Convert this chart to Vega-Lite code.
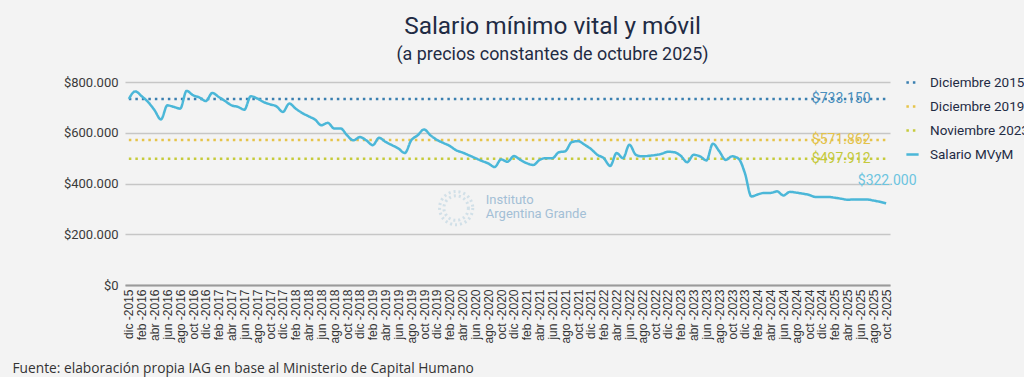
{
  "$schema": "https://vega.github.io/schema/vega-lite/v6.json",
  "autosize": {"type": "none"},
  "width": 765,
  "height": 203,
  "padding": {"left": 125, "top": 82, "right": 134, "bottom": 92},
  "background": "#f3f3f3",
  "title": {
    "text": "Salario mínimo vital y móvil",
    "subtitle": "(a precios constantes de octubre 2025)",
    "anchor": "middle",
    "frame": "group",
    "dx": 45,
    "font": "Roboto",
    "fontSize": 24.4,
    "fontWeight": "normal",
    "color": "#1f2b44",
    "subtitleFont": "Roboto",
    "subtitleFontSize": 17.9,
    "subtitleColor": "#1f2b44",
    "subtitlePadding": 7,
    "offset": 10
  },
  "config": {
    "view": {"stroke": null},
    "locale": {"number": {"decimal": ",", "thousands": ".", "grouping": [3], "currency": ["$", ""]}}
  },
  "layer": [
    {
      "data": {"values": [
        {"mes": "2015-12", "serie": "Diciembre 2015", "v": 733150},
        {"mes": "2025-10", "serie": "Diciembre 2015", "v": 733150},
        {"mes": "2015-12", "serie": "Diciembre 2019", "v": 571862},
        {"mes": "2025-10", "serie": "Diciembre 2019", "v": 571862},
        {"mes": "2015-12", "serie": "Noviembre 2023", "v": 497912},
        {"mes": "2025-10", "serie": "Noviembre 2023", "v": 497912},
        {"mes": "2015-12", "serie": "Salario MVyM", "v": 733150},
        {"mes": "2016-01", "serie": "Salario MVyM", "v": 763000},
        {"mes": "2016-02", "serie": "Salario MVyM", "v": 744000},
        {"mes": "2016-03", "serie": "Salario MVyM", "v": 721000},
        {"mes": "2016-04", "serie": "Salario MVyM", "v": 689000},
        {"mes": "2016-05", "serie": "Salario MVyM", "v": 652000},
        {"mes": "2016-06", "serie": "Salario MVyM", "v": 708000},
        {"mes": "2016-07", "serie": "Salario MVyM", "v": 702000},
        {"mes": "2016-08", "serie": "Salario MVyM", "v": 695000},
        {"mes": "2016-09", "serie": "Salario MVyM", "v": 765000},
        {"mes": "2016-10", "serie": "Salario MVyM", "v": 748000},
        {"mes": "2016-11", "serie": "Salario MVyM", "v": 739000},
        {"mes": "2016-12", "serie": "Salario MVyM", "v": 725000},
        {"mes": "2017-01", "serie": "Salario MVyM", "v": 757000},
        {"mes": "2017-02", "serie": "Salario MVyM", "v": 741000},
        {"mes": "2017-03", "serie": "Salario MVyM", "v": 725000},
        {"mes": "2017-04", "serie": "Salario MVyM", "v": 708000},
        {"mes": "2017-05", "serie": "Salario MVyM", "v": 702000},
        {"mes": "2017-06", "serie": "Salario MVyM", "v": 691000},
        {"mes": "2017-07", "serie": "Salario MVyM", "v": 744000},
        {"mes": "2017-08", "serie": "Salario MVyM", "v": 735000},
        {"mes": "2017-09", "serie": "Salario MVyM", "v": 721000},
        {"mes": "2017-10", "serie": "Salario MVyM", "v": 712000},
        {"mes": "2017-11", "serie": "Salario MVyM", "v": 704000},
        {"mes": "2017-12", "serie": "Salario MVyM", "v": 682000},
        {"mes": "2018-01", "serie": "Salario MVyM", "v": 715000},
        {"mes": "2018-02", "serie": "Salario MVyM", "v": 695000},
        {"mes": "2018-03", "serie": "Salario MVyM", "v": 678000},
        {"mes": "2018-04", "serie": "Salario MVyM", "v": 665000},
        {"mes": "2018-05", "serie": "Salario MVyM", "v": 652000},
        {"mes": "2018-06", "serie": "Salario MVyM", "v": 630000},
        {"mes": "2018-07", "serie": "Salario MVyM", "v": 639000},
        {"mes": "2018-08", "serie": "Salario MVyM", "v": 617000},
        {"mes": "2018-09", "serie": "Salario MVyM", "v": 617000},
        {"mes": "2018-10", "serie": "Salario MVyM", "v": 590000},
        {"mes": "2018-11", "serie": "Salario MVyM", "v": 570000},
        {"mes": "2018-12", "serie": "Salario MVyM", "v": 583000},
        {"mes": "2019-01", "serie": "Salario MVyM", "v": 570000},
        {"mes": "2019-02", "serie": "Salario MVyM", "v": 551000},
        {"mes": "2019-03", "serie": "Salario MVyM", "v": 580000},
        {"mes": "2019-04", "serie": "Salario MVyM", "v": 564000},
        {"mes": "2019-05", "serie": "Salario MVyM", "v": 551000},
        {"mes": "2019-06", "serie": "Salario MVyM", "v": 538000},
        {"mes": "2019-07", "serie": "Salario MVyM", "v": 520000},
        {"mes": "2019-08", "serie": "Salario MVyM", "v": 570000},
        {"mes": "2019-09", "serie": "Salario MVyM", "v": 590000},
        {"mes": "2019-10", "serie": "Salario MVyM", "v": 613000},
        {"mes": "2019-11", "serie": "Salario MVyM", "v": 590000},
        {"mes": "2019-12", "serie": "Salario MVyM", "v": 571862},
        {"mes": "2020-01", "serie": "Salario MVyM", "v": 560000},
        {"mes": "2020-02", "serie": "Salario MVyM", "v": 548000},
        {"mes": "2020-03", "serie": "Salario MVyM", "v": 531000},
        {"mes": "2020-04", "serie": "Salario MVyM", "v": 522000},
        {"mes": "2020-05", "serie": "Salario MVyM", "v": 511000},
        {"mes": "2020-06", "serie": "Salario MVyM", "v": 500000},
        {"mes": "2020-07", "serie": "Salario MVyM", "v": 489000},
        {"mes": "2020-08", "serie": "Salario MVyM", "v": 479000},
        {"mes": "2020-09", "serie": "Salario MVyM", "v": 465000},
        {"mes": "2020-10", "serie": "Salario MVyM", "v": 495000},
        {"mes": "2020-11", "serie": "Salario MVyM", "v": 486000},
        {"mes": "2020-12", "serie": "Salario MVyM", "v": 508000},
        {"mes": "2021-01", "serie": "Salario MVyM", "v": 493000},
        {"mes": "2021-02", "serie": "Salario MVyM", "v": 480000},
        {"mes": "2021-03", "serie": "Salario MVyM", "v": 473000},
        {"mes": "2021-04", "serie": "Salario MVyM", "v": 493000},
        {"mes": "2021-05", "serie": "Salario MVyM", "v": 500000},
        {"mes": "2021-06", "serie": "Salario MVyM", "v": 500000},
        {"mes": "2021-07", "serie": "Salario MVyM", "v": 523000},
        {"mes": "2021-08", "serie": "Salario MVyM", "v": 527000},
        {"mes": "2021-09", "serie": "Salario MVyM", "v": 563000},
        {"mes": "2021-10", "serie": "Salario MVyM", "v": 567000},
        {"mes": "2021-11", "serie": "Salario MVyM", "v": 553000},
        {"mes": "2021-12", "serie": "Salario MVyM", "v": 536000},
        {"mes": "2022-01", "serie": "Salario MVyM", "v": 513000},
        {"mes": "2022-02", "serie": "Salario MVyM", "v": 500000},
        {"mes": "2022-03", "serie": "Salario MVyM", "v": 469000},
        {"mes": "2022-04", "serie": "Salario MVyM", "v": 520000},
        {"mes": "2022-05", "serie": "Salario MVyM", "v": 500000},
        {"mes": "2022-06", "serie": "Salario MVyM", "v": 553000},
        {"mes": "2022-07", "serie": "Salario MVyM", "v": 513000},
        {"mes": "2022-08", "serie": "Salario MVyM", "v": 507000},
        {"mes": "2022-09", "serie": "Salario MVyM", "v": 509000},
        {"mes": "2022-10", "serie": "Salario MVyM", "v": 512000},
        {"mes": "2022-11", "serie": "Salario MVyM", "v": 517000},
        {"mes": "2022-12", "serie": "Salario MVyM", "v": 525000},
        {"mes": "2023-01", "serie": "Salario MVyM", "v": 523000},
        {"mes": "2023-02", "serie": "Salario MVyM", "v": 509000},
        {"mes": "2023-03", "serie": "Salario MVyM", "v": 484000},
        {"mes": "2023-04", "serie": "Salario MVyM", "v": 513000},
        {"mes": "2023-05", "serie": "Salario MVyM", "v": 507000},
        {"mes": "2023-06", "serie": "Salario MVyM", "v": 491000},
        {"mes": "2023-07", "serie": "Salario MVyM", "v": 557000},
        {"mes": "2023-08", "serie": "Salario MVyM", "v": 527000},
        {"mes": "2023-09", "serie": "Salario MVyM", "v": 493000},
        {"mes": "2023-10", "serie": "Salario MVyM", "v": 507000},
        {"mes": "2023-11", "serie": "Salario MVyM", "v": 497912},
        {"mes": "2023-12", "serie": "Salario MVyM", "v": 440000},
        {"mes": "2024-01", "serie": "Salario MVyM", "v": 349000},
        {"mes": "2024-02", "serie": "Salario MVyM", "v": 357000},
        {"mes": "2024-03", "serie": "Salario MVyM", "v": 363000},
        {"mes": "2024-04", "serie": "Salario MVyM", "v": 363000},
        {"mes": "2024-05", "serie": "Salario MVyM", "v": 369000},
        {"mes": "2024-06", "serie": "Salario MVyM", "v": 353000},
        {"mes": "2024-07", "serie": "Salario MVyM", "v": 367000},
        {"mes": "2024-08", "serie": "Salario MVyM", "v": 364000},
        {"mes": "2024-09", "serie": "Salario MVyM", "v": 360000},
        {"mes": "2024-10", "serie": "Salario MVyM", "v": 355000},
        {"mes": "2024-11", "serie": "Salario MVyM", "v": 347000},
        {"mes": "2024-12", "serie": "Salario MVyM", "v": 347000},
        {"mes": "2025-01", "serie": "Salario MVyM", "v": 347000},
        {"mes": "2025-02", "serie": "Salario MVyM", "v": 344000},
        {"mes": "2025-03", "serie": "Salario MVyM", "v": 340000},
        {"mes": "2025-04", "serie": "Salario MVyM", "v": 336000},
        {"mes": "2025-05", "serie": "Salario MVyM", "v": 337000},
        {"mes": "2025-06", "serie": "Salario MVyM", "v": 337000},
        {"mes": "2025-07", "serie": "Salario MVyM", "v": 337000},
        {"mes": "2025-08", "serie": "Salario MVyM", "v": 333000},
        {"mes": "2025-09", "serie": "Salario MVyM", "v": 328000},
        {"mes": "2025-10", "serie": "Salario MVyM", "v": 322000}
      ]},
      "mark": {"type": "line", "interpolate": "monotone", "strokeCap": "butt"},
      "encoding": {
        "x": {
          "field": "mes", "type": "ordinal",
          "scale": {"type": "point", "padding": 0.6},
          "axis": {
            "title": "Fuente: elaboración propia IAG en base al Ministerio de Capital Humano",
            "titleFont": "Open Sans", "titleFontSize": 13.75, "titleFontWeight": "normal", "titleColor": "#333333",
            "titleAnchor": "start", "titleAlign": "left", "titleBaseline": "alphabetic",
            "titleX": -113, "titleY": 87,
            "labelAngle": -90, "labelFont": "Liberation Sans", "labelFontSize": 12, "labelColor": "#333333",
            "labelPadding": 4, "labelOverlap": false, "ticks": false, "grid": false,
            "domainColor": "#9a9a9a", "domainWidth": 2,
            "labelExpr": "toNumber(substring(datum.value,5,7)) % 2 == 0 ? ['ene','feb','mar','abr','may','jun','jul','ago','sep','oct','nov','dic'][toNumber(substring(datum.value,5,7))-1] + ' -' + substring(datum.value,0,4) : ''"
          }
        },
        "y": {
          "field": "v", "type": "quantitative",
          "scale": {"domain": [0, 800000]},
          "axis": {
            "title": null, "format": "$,d", "values": [0, 200000, 400000, 600000, 800000],
            "labelFont": "Roboto", "labelFontSize": 13, "labelColor": "#3a3a3a", "labelPadding": 7,
            "ticks": false, "domain": false, "gridColor": "#c6c6c6", "gridWidth": 1.5
          }
        },
        "color": {
          "field": "serie", "type": "nominal",
          "scale": {"domain": ["Diciembre 2015", "Diciembre 2019", "Noviembre 2023", "Salario MVyM"], "range": ["#3a7fb0", "#e6c44a", "#c6cb3c", "#4bb7d8"]},
          "legend": {
            "title": null, "orient": "none", "legendX": 780, "legendY": -7,
            "labelFont": "Roboto", "labelFontSize": 13.5, "labelColor": "#1f2b44", "labelOffset": 10,
            "symbolType": "stroke", "symbolSize": 150, "symbolStrokeWidth": 3.5, "rowPadding": 10
          }
        },
        "strokeDash": {
          "field": "serie", "type": "nominal",
          "scale": {"domain": ["Diciembre 2015", "Diciembre 2019", "Noviembre 2023", "Salario MVyM"], "range": [[2.5, 4], [2.5, 4], [2.5, 4], [1, 0]]},
          "legend": {
            "title": null, "orient": "none", "legendX": 780, "legendY": -7,
            "labelFont": "Roboto", "labelFontSize": 13.5, "labelColor": "#1f2b44", "labelOffset": 10,
            "symbolType": "stroke", "symbolSize": 150, "symbolStrokeWidth": 3.5, "rowPadding": 10
          }
        },
        "strokeWidth": {
          "field": "serie", "type": "ordinal",
          "scale": {"domain": ["Diciembre 2015", "Diciembre 2019", "Noviembre 2023", "Salario MVyM"], "range": [2.5, 2.5, 2.5, 3]},
          "legend": null
        }
      }
    },
    {
      "data": {"values": [{"mes": "2025-03", "v": 733150, "t": "$733.150"}]},
      "mark": {"type": "text", "font": "Roboto", "fontSize": 14, "align": "center", "baseline": "middle", "color": "#4a8fbd"},
      "encoding": {"x": {"field": "mes", "type": "ordinal"}, "y": {"field": "v", "type": "quantitative"}, "text": {"field": "t"}}
    },
    {
      "data": {"values": [{"mes": "2025-03", "v": 571862, "t": "$571.862"}]},
      "mark": {"type": "text", "font": "Roboto", "fontSize": 14, "align": "center", "baseline": "middle", "color": "#e3c24a"},
      "encoding": {"x": {"field": "mes", "type": "ordinal"}, "y": {"field": "v", "type": "quantitative"}, "text": {"field": "t"}}
    },
    {
      "data": {"values": [{"mes": "2025-03", "v": 497912, "t": "$497.912"}]},
      "mark": {"type": "text", "font": "Roboto", "fontSize": 14, "align": "center", "baseline": "middle", "color": "#c5c93c"},
      "encoding": {"x": {"field": "mes", "type": "ordinal"}, "y": {"field": "v", "type": "quantitative"}, "text": {"field": "t"}}
    },
    {
      "data": {"values": [{"mes": "2025-10", "v": 322000, "t": "$322.000"}]},
      "mark": {"type": "text", "font": "Roboto", "fontSize": 14, "align": "center", "baseline": "middle", "color": "#6cc4df", "dx": 1, "dy": -22},
      "encoding": {"x": {"field": "mes", "type": "ordinal"}, "y": {"field": "v", "type": "quantitative"}, "text": {"field": "t"}}
    },
    {
      "data": {"values": [{"mes": "2020-03", "v": 303000, "r": 1100}, {"mes": "2020-03", "v": 303000, "r": 600}]},
      "mark": {"type": "point", "shape": "circle", "filled": false, "stroke": "#c3d8e4", "strokeWidth": 3, "strokeDash": [2, 3]},
      "encoding": {"x": {"field": "mes", "type": "ordinal"}, "y": {"field": "v", "type": "quantitative"}, "size": {"field": "r", "type": "quantitative", "scale": null, "legend": null}}
    },
    {
      "data": {"values": [{"mes": "2020-07", "v": 335000, "t": "Instituto"}, {"mes": "2020-07", "v": 280000, "t": "Argentina Grande"}]},
      "mark": {"type": "text", "font": "Roboto", "fontSize": 13, "align": "left", "baseline": "middle", "color": "#a3bfd6", "dx": 4},
      "encoding": {"x": {"field": "mes", "type": "ordinal"}, "y": {"field": "v", "type": "quantitative"}, "text": {"field": "t"}}
    }
  ]
}
